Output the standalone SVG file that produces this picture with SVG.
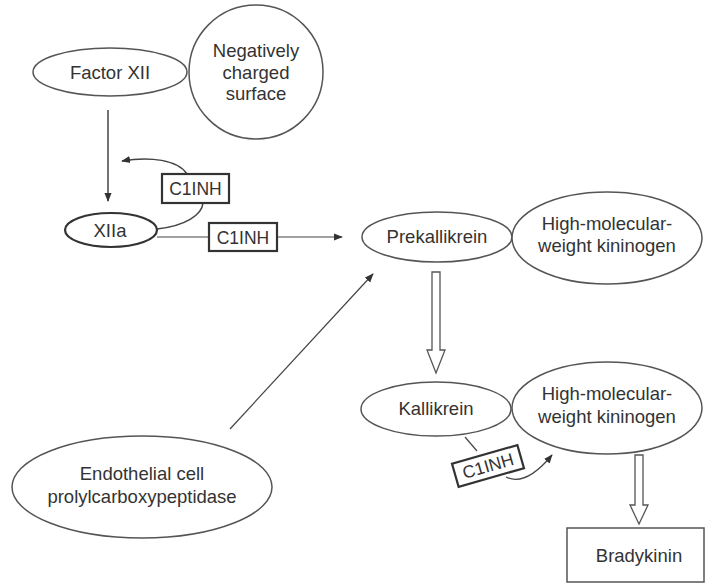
<svg xmlns="http://www.w3.org/2000/svg" width="705" height="583" viewBox="0 0 705 583">
<style>
.n{fill:#fff;stroke:#555;stroke-width:1.5}
.b{fill:#fff;stroke:#333;stroke-width:2.2}
.t{font-family:"Liberation Sans",Arial,sans-serif;font-size:18.5px;fill:#333;text-anchor:middle}
.s{font-size:17.5px}
.c{fill:none;stroke:#444;stroke-width:1.5}
.h{fill:#fff;stroke:#555;stroke-width:1.3}
</style>
<defs>
<marker id="a" viewBox="0 0 10 10" refX="9" refY="5" markerWidth="9" markerHeight="9" markerUnits="userSpaceOnUse" orient="auto">
<path d="M0,1 L10,5 L0,9 z" fill="#333"/>
</marker>
</defs>
<rect width="705" height="583" fill="#fff"/>
<g id="connectors">
<line class="c" x1="108" y1="110" x2="108" y2="201" marker-end="url(#a)"/>
<path class="c" d="M187,174 C178,160 150,156 122,161" marker-end="url(#a)"/>
<path class="c" d="M157,229 C185,226 202,215 203,203"/>
<line class="c" x1="157" y1="237" x2="209" y2="237" style="stroke-width:1"/>
<line class="c" x1="277" y1="237" x2="342" y2="237" style="stroke-width:1" marker-end="url(#a)"/>
<line class="c" x1="230" y1="429" x2="373" y2="274" style="stroke-width:1.2" marker-end="url(#a)"/>
<path class="h" d="M432,272 L440,272 L440,350 L445,350 L436,373 L427,350 L432,350 z"/>
<path class="h" d="M635,455 L643,455 L643,505 L648,505 L639,524 L630,505 L635,505 z"/>
<line class="c" x1="465" y1="437" x2="477" y2="451" style="stroke-width:1.2"/>
<path class="c" d="M506,477 C522,485 538,472 552,455" style="stroke-width:1.2" marker-end="url(#a)"/>
</g>
<g id="factor-xii">
<ellipse class="n" cx="110" cy="72" rx="77" ry="24"/>
<text class="t" x="110" y="79">Factor XII</text>
</g>
<g id="neg-surface">
<circle class="n" cx="256" cy="72" r="67"/>
<text class="t" x="256" y="57">Negatively</text>
<text class="t" x="256" y="79">charged</text>
<text class="t" x="256" y="100">surface</text>
</g>
<g id="xiia">
<ellipse class="b" cx="111" cy="230" rx="46" ry="17"/>
<text class="t" x="110" y="237">XIIa</text>
</g>
<g id="c1inh-1">
<rect class="b" x="162" y="174" width="67" height="29"/>
<text class="t s" x="195.5" y="195">C1INH</text>
</g>
<g id="c1inh-2">
<rect class="b" x="209" y="223" width="68" height="28"/>
<text class="t s" x="243" y="243.5">C1INH</text>
</g>
<g id="prekallikrein">
<ellipse class="n" cx="437" cy="237" rx="75" ry="25"/>
<text class="t" x="437" y="243">Prekallikrein</text>
</g>
<g id="hmwk-1">
<ellipse class="n" cx="607" cy="238" rx="95" ry="46"/>
<text class="t" x="607" y="230">High-molecular-</text>
<text class="t" x="607" y="252">weight kininogen</text>
</g>
<g id="kallikrein">
<ellipse class="n" cx="436" cy="409" rx="75" ry="27"/>
<text class="t" x="436" y="415">Kallikrein</text>
</g>
<g id="hmwk-2">
<ellipse class="n" cx="607" cy="408" rx="95" ry="46"/>
<text class="t" x="607" y="400">High-molecular-</text>
<text class="t" x="607" y="423">weight kininogen</text>
</g>
<g id="c1inh-3" transform="translate(488,466) rotate(-16)">
<rect class="b" x="-34" y="-12" width="68" height="24"/>
<text class="t s" x="0" y="6">C1INH</text>
</g>
<g id="bradykinin">
<rect class="n" x="567" y="528" width="137" height="54"/>
<text class="t" x="639" y="562">Bradykinin</text>
</g>
<g id="endothelial">
<ellipse class="n" cx="142" cy="487" rx="130" ry="51"/>
<text class="t" x="142" y="480">Endothelial cell</text>
<text class="t" x="142" y="503">prolylcarboxypeptidase</text>
</g>
</svg>
